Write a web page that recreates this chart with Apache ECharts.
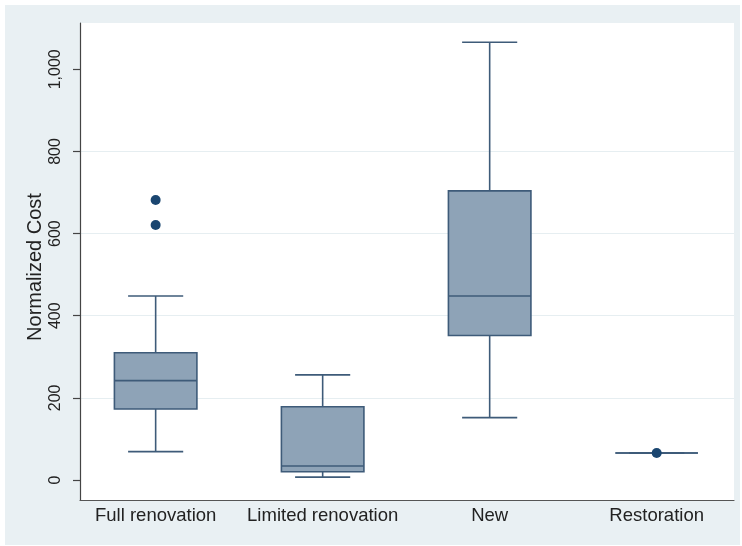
<!DOCTYPE html>
<html>
<head>
<meta charset="utf-8">
<script src="https://cdn.jsdelivr.net/npm/echarts@6/dist/echarts.min.js"></script>
<style>
  html, body { margin: 0; padding: 0; background: #ffffff; }
  #frame { position: absolute; left: 5px; top: 5px; width: 735px; height: 540px; background: #e9f0f3; }
  #chart { position: absolute; left: 0; top: 0; width: 742px; height: 546px; }
</style>
</head>
<body>
<div id="frame"></div>
<div id="chart"></div>
<script>
// Box-plot summaries of normalized cost by project type
const categories = ['Full renovation', 'Limited renovation', 'New', 'Restoration'];
const lowerWhisker = [69, 7, 152, 65.7];
const lowerQuartile = [173, 20, 352, 65.7];
const medianCost = [242, 34, 448, 65.7];
const upperQuartile = [310, 178.5, 704, 65.7];
const upperWhisker = [448, 256, 1066, 65.7];
// Individual points drawn as markers: [category index, cost]
const outsidePoints = [[0, 682], [0, 621], [3, 65.7]];
const yTickValues = [0, 200, 400, 600, 800, 1000];

const FONT = '"Liberation Sans", Arial, Helvetica, sans-serif';
const BOX_WIDTH = 0.494;   // in category units
const CAP_WIDTH = 0.33;
const LINE = '#3e5b79';
const FILL = '#8ea3b7';
const DOT = '#1a4670';

const boxRows = categories.map((c, i) => [
  i, lowerWhisker[i], lowerQuartile[i], medianCost[i], upperQuartile[i], upperWhisker[i]
]);

function renderBox(params, api) {
  const x = api.value(0);
  const lo = api.coord([x, api.value(1)]);
  const q1 = api.coord([x, api.value(2)]);
  const md = api.coord([x, api.value(3)]);
  const q3 = api.coord([x, api.value(4)]);
  const hi = api.coord([x, api.value(5)]);
  const bw = api.size([BOX_WIDTH, 0])[0];
  const cw = api.size([CAP_WIDTH, 0])[0];
  const cx = lo[0];
  const lineStyle = { stroke: LINE, lineWidth: 1.6, fill: null };
  return {
    type: 'group',
    children: [
      { type: 'line', shape: { x1: cx, y1: q3[1], x2: cx, y2: hi[1] }, style: lineStyle },
      { type: 'line', shape: { x1: cx, y1: q1[1], x2: cx, y2: lo[1] }, style: lineStyle },
      { type: 'line', shape: { x1: cx - cw / 2, y1: hi[1], x2: cx + cw / 2, y2: hi[1] }, style: lineStyle },
      { type: 'line', shape: { x1: cx - cw / 2, y1: lo[1], x2: cx + cw / 2, y2: lo[1] }, style: lineStyle },
      { type: 'rect', shape: { x: cx - bw / 2, y: q3[1], width: bw, height: q1[1] - q3[1] },
        style: { fill: FILL, stroke: LINE, lineWidth: 1.6 } },
      { type: 'line', shape: { x1: cx - bw / 2, y1: md[1], x2: cx + bw / 2, y2: md[1] }, style: lineStyle }
    ]
  };
}

const chart = echarts.init(document.getElementById('chart'), null, { renderer: 'canvas' });
chart.setOption({
  animation: false,
  backgroundColor: 'transparent',
  textStyle: { fontFamily: FONT },
  grid: {
    left: 80, right: 8, top: 23, bottom: 46,
    show: true, backgroundColor: '#ffffff', borderWidth: 0
  },
  xAxis: {
    type: 'value',
    min: -0.453, max: 3.463,
    axisLine: { show: true, onZero: false, lineStyle: { color: '#555555', width: 1.2 } },
    axisTick: { show: false },
    splitLine: { show: false },
    axisLabel: {
      customValues: [0, 1, 2, 3],
      formatter: v => categories[v],
      color: '#222222', fontSize: 18.5, margin: 6, fontFamily: FONT
    }
  },
  yAxis: {
    type: 'value',
    min: -48.7, max: 1112.8,
    name: 'Normalized Cost',
    nameLocation: 'middle',
    nameGap: 35,
    nameMoveOverlap: false,
    nameTextStyle: { color: '#222222', fontSize: 20, fontFamily: FONT, padding: [0, 11, 0, 0] },
    axisLine: { show: true, onZero: false, lineStyle: { color: '#444444', width: 1.2 } },
    axisTick: { show: true, customValues: yTickValues, length: 7, lineStyle: { color: '#444444', width: 1.2 } },
    splitLine: { show: true, showMinLine: false, showMaxLine: false, lineStyle: { color: '#e6eef1', width: 1.2 } },
    axisLabel: {
      customValues: yTickValues,
      rotate: 90,
      margin: 16,
      color: '#222222', fontSize: 16, fontFamily: FONT,
      formatter: v => v.toLocaleString('en-US')
    }
  },
  series: [
    {
      type: 'custom',
      renderItem: renderBox,
      data: boxRows,
      encode: { x: 0, y: [1, 2, 3, 4, 5] },
      clip: false,
      z: 2
    },
    {
      type: 'scatter',
      data: outsidePoints,
      symbol: 'circle',
      symbolSize: 10,
      itemStyle: { color: DOT, opacity: 1 },
      z: 3
    }
  ]
});
</script>
</body>
</html>
